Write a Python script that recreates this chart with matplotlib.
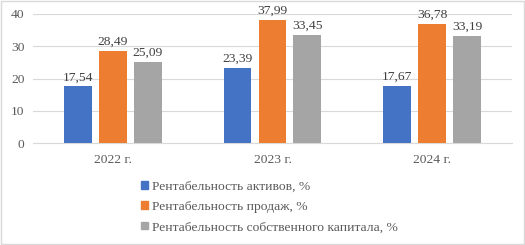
import numpy as np
import matplotlib.pyplot as plt
from matplotlib.patches import Rectangle

years = ["2022 г.", "2023 г.", "2024 г."]
assets = [17.54, 23.39, 17.67]
sales = [28.49, 37.99, 36.78]
equity = [25.09, 33.45, 33.19]
names = ["Рентабельность активов, %", "Рентабельность продаж, %",
         "Рентабельность собственного капитала, %"]
colors = ["#4472C4", "#ED7D31", "#A5A5A5"]

plt.rcParams["font.family"] = ["Liberation Serif", "DejaVu Serif"]
fs = 9.7
fig = plt.figure(figsize=(5.25, 2.45), dpi=100)
ax = fig.add_axes([0.063, 0.416, 0.912, 0.527])

x = np.arange(len(years))
w = 0.175
step = 0.219
for i, (vals, c) in enumerate(zip([assets, sales, equity], colors)):
    ax.bar(x + (i - 1) * step, vals, w, color=c, label=names[i], zorder=3)
    for xi, v in zip(x + (i - 1) * step, vals):
        ax.text(xi, v + 1.0, f"{v:.2f}".replace(".", ","), ha="center", va="bottom",
                fontsize=fs, color="#404040")

ax.set_xlim(-0.5, 2.5)
ax.set_ylim(0, 40)
ax.set_yticks([0, 10, 20, 30, 40])
ax.set_xticks(x)
ax.set_xticklabels(years)
ax.yaxis.grid(True, color="#D9D9D9", linewidth=0.8, zorder=0)
for s in ["top", "right", "left"]:
    ax.spines[s].set_visible(False)
ax.spines["bottom"].set_color("#D9D9D9")
ax.tick_params(axis="both", length=0, labelsize=fs, colors="#595959", pad=6)
ax.tick_params(axis="x", pad=8)

fig.legend(handles=[Rectangle((0, 0), 1, 1, color=c) for c in colors], labels=names,
           loc="upper left", bbox_to_anchor=(0.256, 0.29), frameon=False,
           fontsize=fs, labelcolor="#595959", handlelength=0.5, handleheight=0.5,
           handletextpad=0.3, labelspacing=0.62, borderpad=0)

fig.add_artist(Rectangle((0.002, 0.004), 0.996, 0.992, transform=fig.transFigure,
                         fill=False, edgecolor="#D9D9D9", linewidth=1))
fig.savefig("out.png", dpi=100)
